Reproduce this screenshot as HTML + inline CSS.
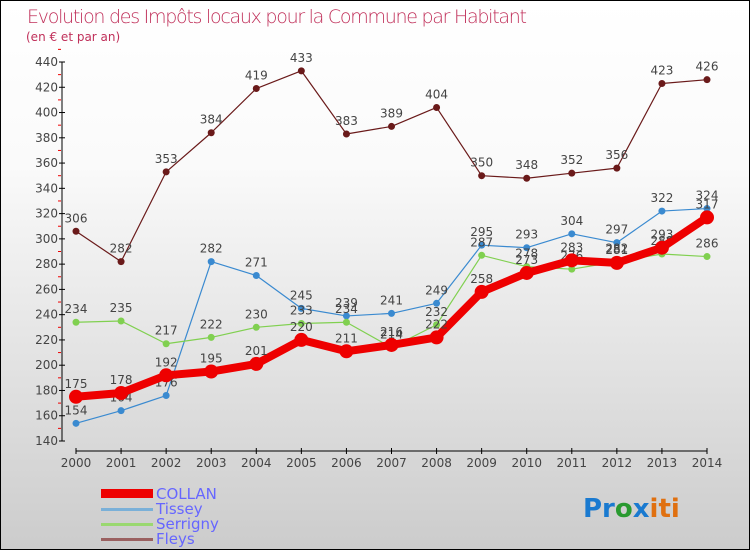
<!DOCTYPE html>
<html><head><meta charset="utf-8"><style>
body{margin:0}
#c{width:748px;height:548px;border:1px solid #000;background:linear-gradient(#fff,#fafafa 30%,#ccc);position:relative;font-family:"DejaVu Sans","Liberation Sans",sans-serif}
svg text{font-family:"DejaVu Sans","Liberation Sans",sans-serif}
</style></head><body>
<div id="c">
<svg width="748" height="548" id="s">
<text x="26" y="22" font-size="19" fill="#c0305a" style="font-weight:200" textLength="500">Evolution des Impôts locaux pour la Commune par Habitant</text>
<text x="25" y="40" font-size="12" fill="#c0305a">(en € et par an)</text>
<g id="ax"></g><g id="ser"></g>
<g>
<rect x="100" y="488" width="52" height="9" fill="#e00"/>
<text x="155" y="498" font-size="15" fill="#66f">COLLAN</text>
<rect x="100" y="507" width="52" height="3" fill="#7ab0d8"/>
<text x="155" y="513" font-size="15" fill="#66f">Tissey</text>
<rect x="100" y="522" width="52" height="3" fill="#9ad870"/>
<text x="155" y="528" font-size="15" fill="#66f">Serrigny</text>
<rect x="100" y="537" width="52" height="3" fill="#9a6060"/>
<text x="155" y="543" font-size="15" fill="#66f">Fleys</text>
</g>
<text x="582" y="516" font-size="26" font-weight="bold"><tspan fill="#1a7ad0">Pr</tspan><tspan fill="#2a9a30">o</tspan><tspan fill="#1a7ad0">x</tspan><tspan fill="#e07010">iti</tspan></text>
</svg></div>
<script>
const years=[2000,2001,2002,2003,2004,2005,2006,2007,2008,2009,2010,2011,2012,2013,2014];
const yTicks=[140,160,180,200,220,240,260,280,300,320,340,360,380,400,420,440];
const collan=[175,178,192,195,201,220,211,216,222,258,273,283,281,293,317];
const tissey=[154,164,176,282,271,245,239,241,249,295,293,304,297,322,324];
const serrigny=[234,235,217,222,230,233,234,214,232,287,278,276,282,288,286];
const fleys=[306,282,353,384,419,433,383,389,404,350,348,352,356,423,426];
const NS="http://www.w3.org/2000/svg";
const X=i=>75+i*(706-75)/14, Y=v=>440-(v-140)*(440-61)/300;
function mk(t,a,p){const e=document.createElementNS(NS,t);for(const k in a)e.setAttribute(k,a[k]);p.appendChild(e);return e;}
const ax=document.getElementById('ax');
const yl=mk('line',{x1:61,y1:61,x2:61,y2:440,stroke:'#000'},ax);


const xl=mk('line',{x1:75,y1:450,x2:706,y2:450,stroke:'#000'},ax);


yTicks.forEach(v=>{mk('line',{x1:58,x2:64,y1:Y(v),y2:Y(v),stroke:'#000'},ax);
mk('line',{x1:57,x2:60,y1:Y(v+10),y2:Y(v+10),stroke:'#e00'},ax);
const t=mk('text',{x:57,y:Y(v)+4,'font-size':12,'text-anchor':'end',fill:'#444'},ax);t.textContent=v;

});
years.forEach((y,i)=>{mk('line',{x1:X(i),x2:X(i),y1:447,y2:453,stroke:'#000'},ax);
const t=mk('text',{x:X(i),y:466,'font-size':12,'text-anchor':'middle',fill:'#444'},ax);t.textContent=y;

});
const ser=document.getElementById('ser');
function draw(d,col,w,r,name){const g=mk('g',{},ser);


mk('polyline',{points:d.map((v,i)=>X(i)+','+Y(v)).join(' '),fill:'none',stroke:col,'stroke-width':w,'stroke-linejoin':'round'},g);
d.forEach((v,i)=>{const c=mk('circle',{cx:X(i),cy:Y(v),r:r,fill:col},g);


const t=mk('text',{x:X(i),y:Y(v)-9,'font-size':12,'text-anchor':'middle',fill:'#444'},g);t.textContent=v;

});}
draw(fleys,'#6a1a1a',1.2,3.5,'fleys');
draw(tissey,'#3a8ad0',1.2,3.5,'tissey');
draw(serrigny,'#80d050',1.2,3.5,'serrigny');
draw(collan,'#e00',8,7,'collan');
</script>
</body></html>
